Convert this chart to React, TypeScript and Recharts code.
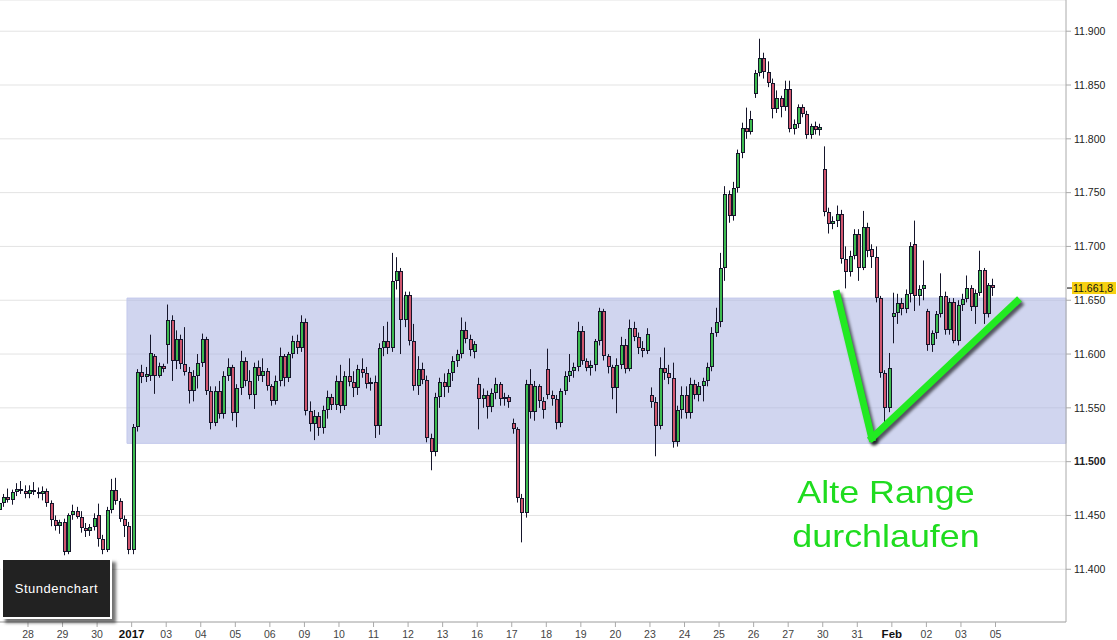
import { Bar, CartesianGrid, ComposedChart, ReferenceArea, ReferenceLine, XAxis, YAxis } from "recharts";

type Ohlc = [number, number, number, number];

// hourly bars, [open, high, low, close], 8 per session
const dec27: Ohlc[] = [
  [11455, 11466, 11452, 11462], [11462, 11470, 11458, 11467], [11467, 11475, 11462, 11464], [11464, 11474, 11460, 11472],
  [11472, 11480, 11468, 11475], [11475, 11482, 11470, 11473], [11473, 11478, 11466, 11470],
];
const dec28: Ohlc[] = [
  [11470, 11478, 11466, 11474], [11474, 11481, 11469, 11472], [11472, 11476, 11466, 11470], [11470, 11477, 11464, 11473],
  [11473, 11475, 11458, 11462], [11462, 11464, 11440, 11446], [11446, 11450, 11436, 11440], [11440, 11446, 11433, 11444],
];
const dec29: Ohlc[] = [
  [11444, 11447, 11413, 11416], [11416, 11452, 11414, 11450], [11450, 11460, 11446, 11454], [11454, 11458, 11447, 11449],
  [11449, 11454, 11434, 11438], [11438, 11443, 11430, 11436], [11436, 11442, 11431, 11439], [11439, 11452, 11436, 11448],
];
const dec30: Ohlc[] = [
  [11450, 11461, 11421, 11428], [11428, 11432, 11414, 11418], [11418, 11458, 11416, 11455], [11455, 11484, 11452, 11474],
  [11474, 11485, 11460, 11463], [11463, 11466, 11444, 11447], [11447, 11450, 11430, 11440], [11440, 11444, 11414, 11418],
];
const jan02: Ohlc[] = [
  [11418, 11535, 11414, 11532], [11532, 11586, 11528, 11583], [11583, 11590, 11573, 11579], [11579, 11588, 11574, 11581],
  [11580, 11618, 11575, 11601], [11598, 11600, 11563, 11580], [11580, 11592, 11578, 11589], [11589, 11591, 11583, 11586],
];
const jan03: Ohlc[] = [
  [11608, 11646, 11591, 11632], [11632, 11636, 11575, 11594], [11594, 11622, 11586, 11614], [11614, 11618, 11586, 11591],
  [11591, 11625, 11580, 11583], [11583, 11588, 11554, 11566], [11566, 11585, 11556, 11580], [11580, 11600, 11568, 11592],
];
const jan04: Ohlc[] = [
  [11592, 11619, 11588, 11614], [11614, 11616, 11562, 11566], [11566, 11570, 11530, 11536], [11536, 11570, 11533, 11566],
  [11566, 11575, 11540, 11544], [11544, 11584, 11540, 11580], [11580, 11596, 11575, 11588], [11588, 11590, 11538, 11545],
];
const jan05: Ohlc[] = [
  [11545, 11572, 11532, 11568], [11568, 11603, 11562, 11594], [11594, 11597, 11570, 11575], [11575, 11585, 11558, 11562],
  [11562, 11592, 11549, 11588], [11588, 11594, 11575, 11580], [11580, 11596, 11574, 11584], [11584, 11587, 11566, 11570],
];
const jan06: Ohlc[] = [
  [11570, 11572, 11552, 11556], [11556, 11580, 11553, 11575], [11575, 11606, 11570, 11598], [11598, 11600, 11570, 11578],
  [11578, 11602, 11574, 11600], [11600, 11617, 11596, 11612], [11612, 11618, 11600, 11606], [11606, 11636, 11602, 11630],
];
const jan09: Ohlc[] = [
  [11630, 11633, 11543, 11547], [11547, 11556, 11528, 11535], [11535, 11548, 11520, 11542], [11542, 11546, 11524, 11531],
  [11531, 11552, 11526, 11548], [11548, 11566, 11540, 11560], [11560, 11563, 11548, 11553], [11553, 11580, 11548, 11575],
];
const jan10: Ohlc[] = [
  [11575, 11590, 11545, 11552], [11552, 11584, 11548, 11580], [11580, 11596, 11570, 11574], [11574, 11584, 11560, 11568],
  [11568, 11590, 11562, 11586], [11586, 11596, 11578, 11582], [11582, 11588, 11568, 11572], [11572, 11578, 11566, 11574],
];
const jan11: Ohlc[] = [
  [11574, 11580, 11522, 11533], [11533, 11610, 11525, 11606], [11606, 11626, 11598, 11612], [11612, 11630, 11600, 11606],
  [11606, 11694, 11602, 11668], [11668, 11690, 11660, 11677], [11677, 11680, 11600, 11632], [11632, 11658, 11625, 11655],
];
const jan12: Ohlc[] = [
  [11655, 11658, 11608, 11612], [11612, 11628, 11566, 11570], [11570, 11598, 11562, 11586], [11586, 11592, 11572, 11576],
  [11576, 11580, 11518, 11522], [11522, 11526, 11492, 11509], [11509, 11564, 11505, 11560], [11560, 11578, 11550, 11574],
];
const jan13: Ohlc[] = [
  [11574, 11582, 11560, 11569], [11569, 11586, 11564, 11582], [11582, 11598, 11575, 11594], [11594, 11604, 11588, 11600],
  [11600, 11634, 11596, 11622], [11622, 11630, 11610, 11614], [11614, 11618, 11598, 11604], [11602, 11612, 11596, 11609],
];
const jan16: Ohlc[] = [
  [11572, 11578, 11530, 11558], [11558, 11568, 11550, 11562], [11562, 11566, 11540, 11551], [11551, 11568, 11546, 11564],
  [11564, 11578, 11558, 11572], [11572, 11574, 11552, 11558], [11558, 11564, 11552, 11560], [11560, 11562, 11550, 11555],
];
const jan17: Ohlc[] = [
  [11536, 11540, 11526, 11530], [11530, 11532, 11462, 11466], [11466, 11470, 11425, 11452], [11452, 11576, 11448, 11572],
  [11572, 11586, 11540, 11546], [11546, 11575, 11538, 11570], [11570, 11572, 11550, 11556], [11556, 11560, 11540, 11548],
];
const jan18: Ohlc[] = [
  [11586, 11605, 11558, 11562], [11562, 11566, 11552, 11558], [11558, 11562, 11530, 11536], [11536, 11568, 11532, 11566],
  [11566, 11584, 11562, 11580], [11580, 11600, 11574, 11584], [11584, 11592, 11578, 11588], [11588, 11630, 11584, 11621],
];
const jan19: Ohlc[] = [
  [11621, 11626, 11590, 11594], [11594, 11596, 11584, 11587], [11587, 11594, 11580, 11590], [11590, 11614, 11584, 11612],
  [11612, 11643, 11608, 11640], [11640, 11642, 11594, 11598], [11598, 11600, 11582, 11588], [11588, 11590, 11558, 11568],
];
const jan20: Ohlc[] = [
  [11568, 11596, 11545, 11590], [11590, 11616, 11586, 11608], [11608, 11614, 11582, 11586], [11586, 11632, 11584, 11624],
  [11624, 11630, 11612, 11616], [11616, 11620, 11600, 11606], [11606, 11612, 11597, 11603], [11603, 11624, 11600, 11619],
];
const jan23: Ohlc[] = [
  [11562, 11569, 11550, 11555], [11555, 11560, 11505, 11533], [11533, 11597, 11530, 11587], [11587, 11606, 11576, 11582],
  [11582, 11590, 11572, 11578], [11578, 11592, 11513, 11518], [11518, 11552, 11514, 11548], [11548, 11570, 11540, 11562],
];
const jan24: Ohlc[] = [
  [11562, 11570, 11540, 11545], [11545, 11578, 11540, 11572], [11572, 11576, 11558, 11562], [11562, 11574, 11556, 11570],
  [11570, 11578, 11556, 11575], [11575, 11592, 11570, 11588], [11588, 11625, 11584, 11620], [11620, 11643, 11616, 11630],
];
const jan25: Ohlc[] = [
  [11630, 11694, 11625, 11680], [11680, 11756, 11668, 11749], [11749, 11752, 11722, 11728], [11728, 11760, 11724, 11754],
  [11754, 11790, 11750, 11787], [11787, 11815, 11782, 11810], [11810, 11829, 11800, 11806], [11806, 11826, 11804, 11818],
];
const jan26: Ohlc[] = [
  [11842, 11864, 11838, 11861], [11861, 11893, 11858, 11875], [11875, 11880, 11856, 11862], [11862, 11872, 11848, 11852],
  [11852, 11856, 11819, 11828], [11828, 11845, 11824, 11838], [11838, 11840, 11820, 11830], [11830, 11854, 11826, 11846],
];
const jan27: Ohlc[] = [
  [11846, 11854, 11806, 11809], [11809, 11818, 11804, 11814], [11814, 11832, 11810, 11830], [11830, 11832, 11820, 11823],
  [11823, 11826, 11800, 11804], [11804, 11814, 11800, 11812], [11812, 11816, 11804, 11808], [11808, 11814, 11803, 11811],
];
const jan30: Ohlc[] = [
  [11772, 11793, 11728, 11732], [11732, 11736, 11712, 11721], [11721, 11728, 11716, 11724], [11724, 11738, 11718, 11730],
  [11730, 11734, 11684, 11688], [11688, 11700, 11661, 11676], [11676, 11696, 11672, 11691], [11691, 11716, 11688, 11712],
];
const jan31: Ohlc[] = [
  [11712, 11716, 11668, 11680], [11680, 11733, 11678, 11718], [11718, 11722, 11690, 11696], [11698, 11702, 11680, 11690],
  [11690, 11700, 11648, 11652], [11652, 11654, 11578, 11582], [11582, 11585, 11533, 11550], [11550, 11601, 11546, 11587],
];
const feb01: Ohlc[] = [
  [11634, 11657, 11610, 11638], [11638, 11656, 11628, 11647], [11647, 11652, 11636, 11642], [11642, 11660, 11638, 11656],
  [11656, 11704, 11648, 11700], [11702, 11724, 11640, 11654], [11654, 11664, 11645, 11660], [11660, 11687, 11650, 11664],
];
const feb02: Ohlc[] = [
  [11640, 11642, 11603, 11608], [11608, 11622, 11602, 11620], [11620, 11640, 11614, 11637], [11637, 11675, 11634, 11654],
  [11654, 11658, 11618, 11622], [11622, 11652, 11618, 11648], [11648, 11652, 11610, 11612], [11612, 11650, 11608, 11646],
];
const feb03: Ohlc[] = [
  [11646, 11656, 11640, 11651], [11651, 11673, 11648, 11661], [11661, 11664, 11640, 11644], [11644, 11660, 11628, 11657],
  [11657, 11696, 11654, 11678], [11678, 11680, 11628, 11637], [11637, 11666, 11634, 11664], [11664, 11670, 11654, 11661.8],
];

// trading days in order; dec27 is cut off at the left edge so it starts at slot 1
const sessions = [dec27, dec28, dec29, dec30, jan02, jan03, jan04, jan05, jan06, jan09, jan10, jan11, jan12, jan13, jan16,
  jan17, jan18, jan19, jan20, jan23, jan24, jan25, jan26, jan27, jan30, jan31, feb01, feb02, feb03];
const firstSlot = [1];

const dayLabels = ["28", "29", "30", "2017", "03", "04", "05", "06", "09", "10", "11", "12", "13", "16", "17", "18", "19",
  "20", "23", "24", "25", "26", "27", "30", "31", "Feb", "02", "03", "05"];
const boldLabels = ["2017", "Feb"];
const priceTicks = [11400, 11450, 11500, 11550, 11600, 11650, 11700, 11750, 11800, 11850, 11900];
const lastPrice = 11661.8;
const oldRange = [11517, 11652];
// green "V" drawn on the chart: [day position, price]
const vPoints = [[23.41, 11656], [24.42, 11522], [28.62, 11649]];

const SLOTS = 8;
const xDomain = [-0.81, 30.04];
const yDomain = [11351, 11929];
const FONT = "'Liberation Sans', Arial, sans-serif";
const INK = "#15152a";

const data = sessions.flatMap((bars, d) => {
  const start = d === 0 ? firstSlot[0] : 0;
  return bars.map(([o, h, l, c], k) => ({
    t: d - 1 + (start + k + 0.5) / SLOTS,
    o, h, l, c,
    range: [l, h],
  }));
});

if (typeof document !== "undefined") document.body.style.margin = "0";

const fmtPrice = (v: number) => `${Math.floor(v / 1000)}.${String(Math.round(v % 1000)).padStart(3, "0")}`;

function Candle(props: any) {
  const { x, y, width, height, payload } = props;
  if (x == null || y == null) return null;
  const { o, h, l, c } = payload;
  const top = Math.min(y, y + height);
  const span = Math.abs(height);
  const perPt = h > l ? span / (h - l) : 0;
  const toY = (v: number) => top + (h - v) * perPt;
  const cx = Math.round(x + width / 2);
  const bTop = Math.round(toY(Math.max(o, c)));
  const bBot = Math.max(Math.round(toY(Math.min(o, c))), bTop + 2);
  return (
    <g>
      <line x1={cx - 0.5} x2={cx - 0.5} y1={top} y2={top + span} stroke={INK} strokeWidth={1} />
      <rect x={cx - 2} y={bTop} width={4} height={bBot - bTop} fill={INK} />
      {bBot - bTop > 2 && (
        <rect x={cx - 1} y={bTop + 1} width={2} height={bBot - bTop - 2} fill={c >= o ? "#3dbb4f" : "#d0566e"} />
      )}
    </g>
  );
}

function PriceTick(props: any) {
  const { x, y, payload } = props;
  const v = payload.value as number;
  return (
    <text x={x} y={y} dy={3.8} textAnchor="start" fontSize={10.5} fontFamily={FONT}
      fontWeight={v === 11500 ? 700 : 400} fill="#222">
      {fmtPrice(v)}
    </text>
  );
}

function DayTick(props: any) {
  const { x, y, payload } = props;
  const label = dayLabels[payload.value] ?? "";
  const bold = boldLabels.includes(label);
  return (
    <text x={x} y={y + 9.5} textAnchor="middle" fontSize={bold ? 11.5 : 10.5} fontFamily={FONT}
      fontWeight={bold ? 700 : 400} fill={bold ? "#111" : "#444"}>
      {label}
    </text>
  );
}

function PriceTag(props: any) {
  const vb = props.viewBox ?? {};
  const right = (vb.x ?? 0) + (vb.width ?? 0);
  const y = vb.y ?? 0;
  return (
    <g>
      <line x1={right + 1} x2={right + 6} y1={y + 0.5} y2={y + 0.5} stroke="#000" />
      <rect x={right + 6} y={y - 5.5} width={44} height={12} fill="#f7d112" />
      <text x={right + 7} y={y + 4.3} fontSize={10.5} fontFamily={FONT} fill="#111">11.661,8</text>
    </g>
  );
}

function VShadow(props: any) {
  const { x1, y1, x2, y2 } = props;
  return (
    <line x1={x1 + 2.5} y1={y1 + 3} x2={x2 + 2.5} y2={y2 + 3} stroke="rgba(0,0,0,0.6)" strokeWidth={7}
      strokeLinecap="square" style={{ filter: "blur(1.6px)" }} />
  );
}

function VStroke(props: any) {
  const { x1, y1, x2, y2 } = props;
  return <line x1={x1} y1={y1} x2={x2} y2={y2} stroke="#22ea22" strokeWidth={7} strokeLinecap="square" />;
}

const segments = [
  [vPoints[0], vPoints[1]],
  [vPoints[1], vPoints[2]],
].map(([a, b]) => [{ x: a[0], y: a[1] }, { x: b[0], y: b[1] }]);

export default function App() {
  return (
    <div style={{ position: "relative", width: 1117, height: 640, background: "#fff", overflow: "hidden" }}>
      <ComposedChart width={1117} height={640} data={data} margin={{ top: 0, right: 0, bottom: 0, left: 0 }}>
        <CartesianGrid vertical={false} stroke="#e3e3e3" />
        <XAxis
          dataKey="t"
          type="number"
          domain={xDomain}
          allowDataOverflow
          ticks={dayLabels.map((_, i) => i)}
          height={18}
          tickSize={5}
          tickMargin={1}
          stroke="#aaa"
          tick={<DayTick />}
          interval={0}
        />
        <YAxis
          orientation="right"
          type="number"
          domain={yDomain}
          allowDataOverflow
          ticks={priceTicks}
          width={51}
          tickSize={5}
          tickMargin={3}
          stroke="#aaa"
          tick={<PriceTick />}
          interval={0}
        />
        <ReferenceArea x1={2.865} x2={xDomain[1]} y1={oldRange[0]} y2={oldRange[1]} fill="#aab3e2" fillOpacity={0.55}
          stroke="#c3c9ec" strokeWidth={1} />
        <Bar dataKey="range" barSize={4} shape={<Candle />} isAnimationActive={false} />
        <ReferenceLine y={lastPrice} stroke="none" ifOverflow="visible" label={<PriceTag />} />
        {segments.map((seg, i) => (
          <ReferenceLine key={`s${i}`} segment={seg} shape={<VShadow />} ifOverflow="visible" />
        ))}
        {segments.map((seg, i) => (
          <ReferenceLine key={`g${i}`} segment={seg} shape={<VStroke />} ifOverflow="visible" />
        ))}
      </ComposedChart>

      <div
        style={{
          position: "absolute", left: 786, top: 470, width: 200, textAlign: "center", color: "#1fdc1f",
          fontFamily: FONT, fontSize: 32, lineHeight: "44px", transform: "scaleX(1.12)",
        }}
      >
        Alte Range
        <br />
        durchlaufen
      </div>

      <div
        style={{
          position: "absolute", left: 1, top: 558, width: 107, height: 57, background: "#222",
          border: "2px solid #fff", boxShadow: "4px 4px 3px rgba(0,0,0,0.55)", color: "#fff",
          fontFamily: FONT, fontSize: 13, letterSpacing: 0.5, display: "flex", alignItems: "center",
          justifyContent: "center",
        }}
      >
        Stundenchart
      </div>
    </div>
  );
}
